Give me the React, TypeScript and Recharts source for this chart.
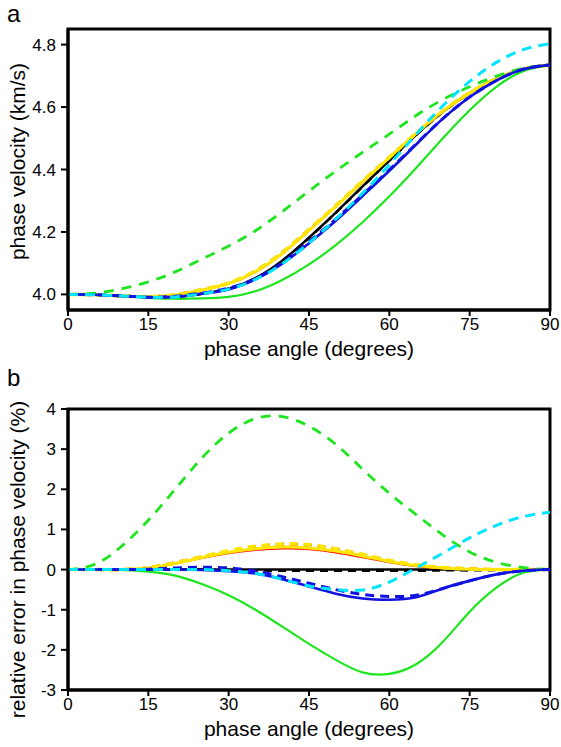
import React from 'react';
import { LineChart, Line, XAxis, YAxis, ReferenceArea, Label } from 'recharts';

// phase angle samples (degrees)
const angles = [0, 5, 10, 15, 20, 25, 30, 35, 40, 45, 50, 55, 60, 65, 70, 75, 80, 85, 90];
const xTicks = [0, 15, 30, 45, 60, 75, 90];
const velTicks = [4.0, 4.2, 4.4, 4.6, 4.8];
const errTicks = [-3, -2, -1, 0, 1, 2, 3, 4];

// panel a: phase velocity (km/s)
const velBlack = [4.000, 3.999, 3.995, 3.991, 3.992, 4.002, 4.018, 4.052, 4.108, 4.182, 4.262, 4.346, 4.429, 4.511, 4.585, 4.645, 4.691, 4.722, 4.735];
const velBlackDash = [4.000, 3.999, 3.995, 3.991, 3.992, 4.002, 4.018, 4.051, 4.107, 4.181, 4.261, 4.345, 4.428, 4.510, 4.584, 4.644, 4.690, 4.722, 4.735];
const velRed = [4.000, 3.999, 3.995, 3.993, 3.998, 4.013, 4.034, 4.071, 4.129, 4.203, 4.280, 4.359, 4.437, 4.515, 4.586, 4.645, 4.691, 4.722, 4.735];
const velRedDash = [4.000, 3.999, 3.995, 3.993, 3.999, 4.015, 4.036, 4.075, 4.134, 4.208, 4.284, 4.362, 4.439, 4.516, 4.587, 4.646, 4.691, 4.722, 4.735];
const velYellow = [4.000, 3.999, 3.995, 3.993, 3.998, 4.014, 4.035, 4.073, 4.131, 4.205, 4.282, 4.361, 4.438, 4.516, 4.587, 4.645, 4.691, 4.722, 4.735];
const velYellowDash = [4.000, 3.999, 3.995, 3.993, 3.999, 4.015, 4.037, 4.076, 4.134, 4.208, 4.284, 4.363, 4.439, 4.516, 4.587, 4.646, 4.691, 4.722, 4.735];
const velGreen = [4.000, 3.999, 3.995, 3.989, 3.986, 3.987, 3.992, 4.010, 4.046, 4.096, 4.158, 4.231, 4.314, 4.405, 4.500, 4.590, 4.665, 4.715, 4.735];
const velGreenDash = [4.000, 4.004, 4.018, 4.040, 4.072, 4.113, 4.155, 4.204, 4.265, 4.331, 4.395, 4.455, 4.513, 4.573, 4.624, 4.665, 4.699, 4.724, 4.735];
const velBlue = [4.000, 3.999, 3.995, 3.991, 3.992, 4.002, 4.016, 4.048, 4.098, 4.164, 4.236, 4.315, 4.396, 4.480, 4.563, 4.632, 4.685, 4.721, 4.735];
const velBlueDash = [4.000, 3.999, 3.995, 3.991, 3.994, 4.004, 4.020, 4.050, 4.101, 4.169, 4.241, 4.319, 4.399, 4.482, 4.563, 4.632, 4.685, 4.721, 4.735];
const velCyan = [4.000, 3.999, 3.995, 3.991, 3.992, 4.002, 4.017, 4.048, 4.098, 4.165, 4.241, 4.324, 4.415, 4.513, 4.604, 4.682, 4.743, 4.784, 4.803];

// panel b: relative error in phase velocity (%)
const errBlack = [0, 0, 0, 0, 0, 0, 0, 0, 0, 0, 0, 0, 0, 0, 0, 0, 0, 0, 0];
const errBlackDash = [0, 0, 0, 0, 0, 0, -0.01, -0.02, -0.03, -0.03, -0.03, -0.03, -0.03, -0.03, -0.02, -0.02, -0.01, 0, 0];
const errRed = [0, 0, 0, 0.04, 0.14, 0.28, 0.40, 0.48, 0.52, 0.50, 0.42, 0.30, 0.18, 0.08, 0.03, 0.01, 0, 0, 0];
const errRedDash = [0, 0, 0, 0.05, 0.17, 0.32, 0.46, 0.57, 0.63, 0.61, 0.51, 0.37, 0.22, 0.11, 0.05, 0.02, 0, 0, 0];
const errYellow = [0, 0, 0, 0.04, 0.15, 0.30, 0.43, 0.52, 0.56, 0.54, 0.46, 0.34, 0.20, 0.10, 0.04, 0.01, 0, 0, 0];
const errYellowDash = [0, 0, 0, 0.05, 0.17, 0.32, 0.47, 0.58, 0.64, 0.62, 0.52, 0.38, 0.23, 0.12, 0.05, 0.02, 0, 0, 0];
const errGreen = [0, 0, -0.01, -0.05, -0.15, -0.36, -0.64, -1.0, -1.42, -1.85, -2.25, -2.56, -2.6, -2.36, -1.8, -1.05, -0.45, -0.08, 0];
const errGreenDash = [0, 0.13, 0.58, 1.23, 2.0, 2.78, 3.4, 3.76, 3.81, 3.57, 3.12, 2.5, 1.9, 1.37, 0.86, 0.44, 0.18, 0.05, 0];
const errBlue = [0, 0, 0, 0, 0, -0.01, -0.04, -0.1, -0.24, -0.42, -0.6, -0.72, -0.75, -0.69, -0.47, -0.28, -0.12, -0.03, 0];
const errBlueDash = [0, 0, 0, 0.01, 0.04, 0.06, 0.04, -0.04, -0.18, -0.34, -0.5, -0.62, -0.67, -0.64, -0.47, -0.28, -0.12, -0.03, 0];
const errCyan = [0, 0, 0, 0, 0, 0, -0.03, -0.1, -0.24, -0.41, -0.5, -0.51, -0.31, 0.04, 0.41, 0.79, 1.1, 1.32, 1.43];

const FONT = '"Liberation Sans", Arial, Helvetica, sans-serif';

type SeriesDef = { key: string; color: string; width: number; dash?: string };
const seriesDefs: SeriesDef[] = [
  { key: 'black', color: '#000000', width: 2.5 },
  { key: 'blackDash', color: '#000000', width: 2.5, dash: '8 6' },
  { key: 'red', color: '#ff1010', width: 1.6 },
  { key: 'redDash', color: '#ff1010', width: 3, dash: '8 6' },
  { key: 'yellow', color: '#ffe600', width: 3 },
  { key: 'yellowDash', color: '#ffe600', width: 3.5, dash: '8 6' },
  { key: 'green', color: '#1ee61e', width: 2.2 },
  { key: 'greenDash', color: '#1ee61e', width: 2.8, dash: '10 8' },
  { key: 'blue', color: '#1212e0', width: 2.6 },
  { key: 'blueDash', color: '#1212e0', width: 3, dash: '9 6' },
  { key: 'cyan', color: '#00e5ff', width: 3, dash: '10 7' },
];

function buildRows(cols: Record<string, number[]>) {
  return angles.map((a, i) => {
    const row: Record<string, number> = { angle: a };
    Object.keys(cols).forEach((k) => {
      row[k] = cols[k][i];
    });
    return row;
  });
}

const velRows = buildRows({
  black: velBlack, blackDash: velBlackDash, red: velRed, redDash: velRedDash,
  yellow: velYellow, yellowDash: velYellowDash, green: velGreen, greenDash: velGreenDash,
  blue: velBlue, blueDash: velBlueDash, cyan: velCyan,
});
const errRows = buildRows({
  black: errBlack, blackDash: errBlackDash, red: errRed, redDash: errRedDash,
  yellow: errYellow, yellowDash: errYellowDash, green: errGreen, greenDash: errGreenDash,
  blue: errBlue, blueDash: errBlueDash, cyan: errCyan,
});

const tickStyle = { fill: '#000', fontSize: 17, fontFamily: FONT };

function yLabel(text: string, shift: number) {
  return (props: any) => {
    const vb = props.viewBox || { x: 0, y: 0, width: 0, height: 0 };
    const cx = 25;
    const cy = vb.y + vb.height / 2 + shift;
    return (
      <text x={cx} y={cy} transform={`rotate(-90 ${cx} ${cy})`} textAnchor="middle"
        fontSize={21} fontFamily={FONT} fill="#000">{text}</text>
    );
  };
}

function xLabel(text: string) {
  return (props: any) => {
    const vb = props.viewBox || { x: 0, y: 0, width: 0, height: 0 };
    const cx = vb.x + vb.width / 2;
    const cy = vb.y + 46;
    return (
      <text x={cx} y={cy} textAnchor="middle" fontSize={21} fontFamily={FONT} fill="#000">{text}</text>
    );
  };
}

function Panel(props: {
  rows: Record<string, number>[]; domain: [number, number]; ticks: number[];
  height: number; top: number; fmt: (v: number) => string; ylab: string; yshift: number;
}) {
  const { rows, domain, ticks, height, top, fmt, ylab, yshift } = props;
  return (
    <LineChart width={561} height={height} data={rows}
      margin={{ top, right: 11, left: 0, bottom: 0 }}>
      <XAxis dataKey="angle" type="number" domain={[0, 90]} ticks={xTicks} height={55}
        axisLine={{ stroke: '#000', strokeWidth: 3 }} tickLine={{ stroke: '#000', strokeWidth: 2 }}
        tickSize={6} tickMargin={2} tick={tickStyle} interval={0} allowDataOverflow>
        <Label content={xLabel('phase angle (degrees)')} />
      </XAxis>
      <YAxis type="number" domain={domain} ticks={ticks} width={68} tickFormatter={fmt}
        axisLine={{ stroke: '#000', strokeWidth: 3 }} tickLine={{ stroke: '#000', strokeWidth: 2 }}
        tickSize={7} tickMargin={5} tick={tickStyle} interval={0} allowDataOverflow>
        <Label content={yLabel(ylab, yshift)} />
      </YAxis>
      {seriesDefs.map((s) => (
        <Line key={s.key} dataKey={s.key} type="natural" stroke={s.color} strokeWidth={s.width}
          strokeDasharray={s.dash} dot={false} activeDot={false} isAnimationActive={false} />
      ))}
      <ReferenceArea x1={0} x2={90} y1={domain[0]} y2={domain[1]} fill="none" fillOpacity={0}
        stroke="#000" strokeWidth={3} ifOverflow="visible" />
    </LineChart>
  );
}

const letterStyle: React.CSSProperties = {
  position: 'absolute', left: 7, fontFamily: FONT, fontSize: 24, lineHeight: '24px',
};

export default function App() {
  return (
    <div style={{ position: 'absolute', left: 0, top: 0, width: 561, height: 747, background: '#fff' }}>
      <div style={{ position: 'absolute', left: 0, top: 0 }}>
        <Panel rows={velRows} domain={[3.95, 4.85]} ticks={velTicks} height={365} top={29}
          fmt={(v) => v.toFixed(1)} ylab="phase velocity (km/s)" yshift={-8} />
      </div>
      <div style={{ position: 'absolute', left: 0, top: 365 }}>
        <Panel rows={errRows} domain={[-3, 4]} ticks={errTicks} height={380} top={44}
          fmt={(v) => String(v)} ylab="relative error in phase velocity (%)" yshift={10} />
      </div>
      <div style={{ ...letterStyle, top: 2 }}>a</div>
      <div style={{ ...letterStyle, top: 366 }}>b</div>
    </div>
  );
}
